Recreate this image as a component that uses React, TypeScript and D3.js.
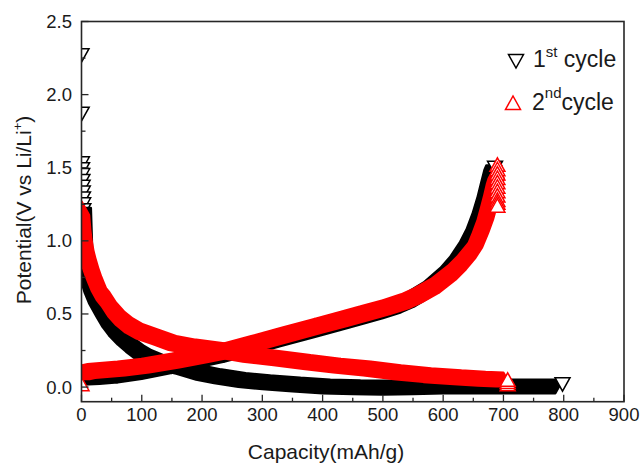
import React from "react";
import * as d3 from "d3";

// ---------- data ----------
const xTickValues = [0, 100, 200, 300, 400, 500, 600, 700, 800, 900];
const xMinorValues = [50, 150, 250, 350, 450, 550, 650, 750, 850];
const yTickValues = [0, 0.5, 1.0, 1.5, 2.0, 2.5];
const yMinorValues = [0.25, 0.75, 1.25, 1.75, 2.25];
const yTickLabels = ["0.0", "0.5", "1.0", "1.5", "2.0", "2.5"];

// 1st cycle (black, down triangles)
const cycle1DischargeHead: [number, number][] = [
  [0, 2.27], [0.3, 1.87], [0.6, 1.53], [0.9, 1.49], [1.2, 1.45], [1.5, 1.41],
  [1.8, 1.37], [2.1, 1.33], [2.4, 1.29], [2.7, 1.25], [3, 1.21],
];
const cycle1Discharge: [number, number][] = [
  [3, 1.18], [4, 1.05], [5, 0.92], [6, 0.83], [8, 0.76], [12, 0.68], [18, 0.6],
  [25, 0.53], [35, 0.46], [46, 0.4], [60, 0.34], [74, 0.29], [90, 0.24],
  [102, 0.21], [125, 0.17], [157, 0.14], [190, 0.1], [220, 0.075], [260, 0.05],
  [300, 0.035], [350, 0.02], [400, 0.005], [450, 0.0], [500, -0.003],
  [550, 0.0], [600, 0.005], [650, 0.006], [700, 0.006], [750, 0.006], [786, 0.006],
];
const cycle1DischargeEnd: [number, number][] = [[798, 0.02]];
const cycle1Charge: [number, number][] = [
  [0, 0.03], [2, 0.065], [30, 0.07], [60, 0.08], [100, 0.105], [150, 0.145],
  [200, 0.19], [237, 0.222], [280, 0.27], [330, 0.328], [386, 0.39],
  [430, 0.44], [463, 0.478], [500, 0.52], [530, 0.56], [552, 0.6], [580, 0.67],
  [608, 0.77], [625, 0.85], [641, 0.95], [652, 1.04], [662, 1.15], [670, 1.26],
  [676, 1.36], [681, 1.44], [684, 1.47],
];
const cycle1ChargeEnd: [number, number][] = [[686, 1.5]];

// 2nd cycle (red, up triangles)
const cycle2Discharge: [number, number][] = [
  [0, 1.22], [1, 1.17], [2, 1.12], [4, 1.05], [7, 0.98], [10, 0.93], [15, 0.86],
  [20, 0.8], [25, 0.75], [30, 0.7], [38, 0.64], [46, 0.6], [57, 0.53],
  [70, 0.47], [85, 0.42], [102, 0.38], [130, 0.34], [157, 0.3], [190, 0.275],
  [237, 0.25], [280, 0.22], [331, 0.195], [380, 0.17], [430, 0.145],
  [480, 0.125], [530, 0.1], [580, 0.08], [630, 0.065], [670, 0.055], [700, 0.05],
];
const cycle2DischargeEnd: [number, number][] = [[707, 0.02], [707, 0.035], [707, 0.05]];
const cycle2ChargeStart: [number, number][] = [[0, 0.02]];
const cycle2Charge: [number, number][] = [
  [1, 0.1], [10, 0.108], [30, 0.115], [60, 0.125], [100, 0.145], [150, 0.18],
  [200, 0.22], [237, 0.25], [280, 0.298], [330, 0.354], [386, 0.417],
  [430, 0.466], [463, 0.503], [500, 0.545], [530, 0.585], [552, 0.625],
  [580, 0.69], [608, 0.78], [625, 0.85], [641, 0.93], [652, 1.0], [662, 1.1],
  [670, 1.19], [676, 1.28], [681, 1.36], [685, 1.43], [688, 1.47],
];
const cycle2ChargeEnd: [number, number][] = [
  [690, 1.52], [690, 1.49], [690, 1.46], [690, 1.43], [690, 1.4], [690, 1.37],
  [690, 1.34], [690, 1.31], [690, 1.28], [690, 1.26], [690, 1.24],
];

// ---------- layout ----------
const W = 640;
const H = 463;
const PLOT = { left: 81.5, right: 624, top: 21.5, bottom: 401.7 };
const FONT = "'Liberation Sans', Arial, Helvetica, sans-serif";
const BLACK = "#000000";
const RED = "#ff0000";
const AXIS = "#262626";

const x = d3.scaleLinear().domain([0, 900]).range([PLOT.left, PLOT.right]);
const y = d3.scaleLinear().domain([-0.1, 2.5]).range([PLOT.bottom, PLOT.top]);

type Pt = [number, number];
const TRI_DOWN: Pt[] = [[-7.5, -6.5], [7.5, -6.5], [0, 7]];
const TRI_UP: Pt[] = [[-7.5, 6.5], [7.5, 6.5], [0, -7]];

function markerPath(tri: Pt[]) {
  return "M" + tri.map((p) => p.join(",")).join("L") + "Z";
}

// union of the triangle swept between consecutive points (dense marker band)
function bandPath(data: Pt[], tri: Pt[]) {
  const pts = data.map((d) => [x(d[0]), y(d[1])] as Pt);
  let out = "";
  for (let i = 0; i < pts.length - 1; i++) {
    const a = pts[i];
    const b = pts[i + 1];
    const cand: Pt[] = [
      ...tri.map((t) => [a[0] + t[0], a[1] + t[1]] as Pt),
      ...tri.map((t) => [b[0] + t[0], b[1] + t[1]] as Pt),
    ];
    const hull = d3.polygonHull(cand);
    if (hull) out += "M" + hull.map((p) => p.join(",")).join("L") + "Z";
  }
  return out;
}

function Markers({ data, tri, color }: { data: Pt[]; tri: Pt[]; color: string }) {
  const d = markerPath(tri);
  return (
    <g>
      {data.map((p, i) => (
        <path
          key={i}
          d={d}
          transform={`translate(${x(p[0])},${y(p[1])})`}
          fill="#ffffff"
          stroke={color}
          strokeWidth={1.5}
          strokeLinejoin="miter"
        />
      ))}
    </g>
  );
}

function Band({ data, tri, color }: { data: Pt[]; tri: Pt[]; color: string }) {
  return <path d={bandPath(data, tri)} fill={color} stroke={color} strokeWidth={2.5} strokeLinejoin="round" />;
}

export default function App() {
  return (
    <svg
      width={W}
      height={H}
      viewBox={`0 0 ${W} ${H}`}
      style={{ position: "absolute", left: 0, top: 0, display: "block", background: "#ffffff" }}
      fontFamily={FONT}
    >
      <defs>
        <clipPath id="plotClip">
          <rect x={PLOT.left} y={PLOT.top} width={PLOT.right - PLOT.left} height={PLOT.bottom - PLOT.top} />
        </clipPath>
      </defs>
      <rect x={0} y={0} width={W} height={H} fill="#ffffff" />

      <g clipPath="url(#plotClip)">
        {/* 1st cycle */}
        <Markers data={cycle1DischargeHead} tri={TRI_DOWN} color={BLACK} />
        <Band data={cycle1Discharge} tri={TRI_DOWN} color={BLACK} />
        <Markers data={cycle1DischargeEnd} tri={TRI_DOWN} color={BLACK} />
        <Band data={cycle1Charge} tri={TRI_DOWN} color={BLACK} />
        <Markers data={cycle1ChargeEnd} tri={TRI_DOWN} color={BLACK} />
        {/* 2nd cycle */}
        <Band data={cycle2Discharge} tri={TRI_UP} color={RED} />
        <Markers data={cycle2DischargeEnd} tri={TRI_UP} color={RED} />
        <Markers data={cycle2ChargeStart} tri={TRI_UP} color={RED} />
        <Band data={cycle2Charge} tri={TRI_UP} color={RED} />
        <Markers data={cycle2ChargeEnd} tri={TRI_UP} color={RED} />
      </g>

      {/* frame */}
      <rect
        x={PLOT.left}
        y={PLOT.top}
        width={PLOT.right - PLOT.left}
        height={PLOT.bottom - PLOT.top}
        fill="none"
        stroke={AXIS}
        strokeWidth={1.6}
      />

      {/* ticks (inward) */}
      <g stroke={AXIS} strokeWidth={1.3}>
        {xTickValues.map((v) => (
          <line key={"xt" + v} x1={x(v)} x2={x(v)} y1={PLOT.bottom} y2={PLOT.bottom - 7} />
        ))}
        {xMinorValues.map((v) => (
          <line key={"xm" + v} x1={x(v)} x2={x(v)} y1={PLOT.bottom} y2={PLOT.bottom - 4} />
        ))}
        {yTickValues.map((v) => (
          <line key={"yt" + v} x1={PLOT.left} x2={PLOT.left + 7} y1={y(v)} y2={y(v)} />
        ))}
        {yMinorValues.map((v) => (
          <line key={"ym" + v} x1={PLOT.left} x2={PLOT.left + 4} y1={y(v)} y2={y(v)} />
        ))}
      </g>

      {/* tick labels */}
      <g fill="#1a1a1a" fontSize={18.5}>
        {xTickValues.map((v) => (
          <text key={"xl" + v} x={x(v)} y={421} textAnchor="middle">
            {String(v)}
          </text>
        ))}
        {yTickValues.map((v, i) => (
          <text key={"yl" + v} x={72} y={y(v) + 6.5} textAnchor="end">
            {yTickLabels[i]}
          </text>
        ))}
      </g>

      {/* axis titles */}
      <text x={326} y={459} textAnchor="middle" fontSize={21} fill="#1a1a1a">
        Capacity(mAh/g)
      </text>
      <text transform="translate(31,210) rotate(-90)" textAnchor="middle" fontSize={21} fill="#1a1a1a">
        Potential(V vs Li/Li
        <tspan fontSize={13} dy={-9}>+</tspan>
        <tspan dy={9}>)</tspan>
      </text>

      {/* legend */}
      <path d={markerPath(TRI_DOWN)} transform="translate(516,61)" fill="#ffffff" stroke={BLACK} strokeWidth={1.5} />
      <text x={533} y={67} fontSize={23} fill="#1a1a1a">
        1<tspan fontSize={15} dy={-10}>st</tspan>
        <tspan dy={10}> cycle</tspan>
      </text>
      <path d={markerPath(TRI_UP)} transform="translate(513,103)" fill="#ffffff" stroke={RED} strokeWidth={1.5} />
      <text x={532} y={110} fontSize={23} fill="#1a1a1a">
        2<tspan fontSize={15} dy={-12}>nd</tspan>
        <tspan dy={12}>cycle</tspan>
      </text>
    </svg>
  );
}
